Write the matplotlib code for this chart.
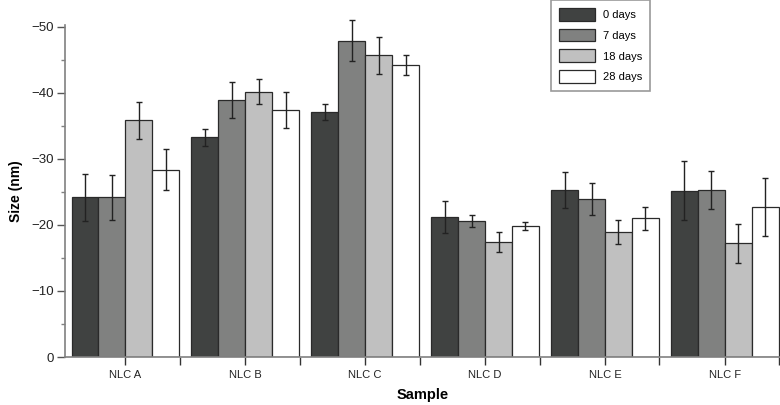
import numpy as np
import matplotlib.pyplot as plt
from matplotlib.ticker import MultipleLocator, FixedLocator

# --- data (sizes shown as negative values on an inverted axis) ---
samples = ["NLC A", "NLC B", "NLC C", "NLC D", "NLC E", "NLC F"]
series = ["0 days", "7 days", "18 days", "28 days"]

day0 = [-24.2, -33.3, -37.1, -21.2, -25.3, -25.2]
day7 = [-24.2, -38.9, -47.9, -20.6, -23.9, -25.3]
day18 = [-35.9, -40.2, -45.7, -17.4, -18.9, -17.2]
day28 = [-28.4, -37.4, -44.2, -19.9, -21.0, -22.7]

err0 = [3.6, 1.3, 1.2, 2.4, 2.7, 4.5]
err7 = [3.4, 2.7, 3.1, 0.9, 2.4, 2.9]
err18 = [2.8, 1.9, 2.8, 1.5, 1.8, 2.9]
err28 = [3.1, 2.7, 1.5, 0.6, 1.8, 4.4]

values = [day0, day7, day18, day28]
errors = [err0, err7, err18, err28]
colors = ["#404241", "#808180", "#c0c0c0", "#ffffff"]

plt.rcParams["font.family"] = ["Liberation Sans", "DejaVu Sans"]

fig = plt.figure(figsize=(7.8, 4.05), dpi=100)
ax = fig.add_axes([65 / 780, 1 - 357 / 405, 1 - 65 / 780, (357 - 25) / 405])

x = np.arange(len(samples))
w = 0.2246
for i, (vals, errs, col) in enumerate(zip(values, errors, colors)):
    ax.bar(x + (i - 1.5) * w, vals, width=w, color=col, edgecolor="#2a2a2a",
           linewidth=0.9, label=series[i], zorder=2)
    ax.errorbar(x + (i - 1.5) * w, vals, yerr=errs, fmt="none", ecolor="#222222",
                elinewidth=1.0, capsize=2.2, capthick=1.0, zorder=3, clip_on=False)

ax.set_xlim(-0.504, 5.46)
ax.set_ylim(0, -50.3)

for side in ["top", "right"]:
    ax.spines[side].set_visible(False)
for side in ["left", "bottom"]:
    ax.spines[side].set_color("#808080")
    ax.spines[side].set_linewidth(1.2)

ax.set_xticks(x)
ax.set_xticklabels(samples)
ax.xaxis.set_minor_locator(FixedLocator(x + 0.454))
ax.yaxis.set_major_locator(MultipleLocator(10))
ax.yaxis.set_minor_locator(MultipleLocator(5))
ax.tick_params(axis="y", which="major", length=6, width=1, color="#555555",
               labelsize=9.5, labelcolor="#222222", pad=2)
ax.tick_params(axis="x", which="major", length=6, width=1, color="#333333",
               labelsize=8, labelcolor="#222222", pad=3)
ax.tick_params(axis="x", which="minor", length=6, width=1, color="#333333")
ax.tick_params(axis="y", which="minor", length=3, width=1, color="#808080")

ax.set_xlabel("Sample", fontsize=10.5, fontweight="bold", labelpad=6)
ax.set_ylabel("Size (nm)", fontsize=10, fontweight="bold", labelpad=6)

leg = ax.legend(loc="upper left", bbox_to_anchor=(551 / 780, 1.0), bbox_transform=fig.transFigure,
                fontsize=8, frameon=True, fancybox=False, handlelength=3.3,
                handleheight=1.4, handletextpad=0.7, labelspacing=0.72,
                borderpad=0.7, borderaxespad=0)
leg.get_frame().set_edgecolor("#808080")
leg.get_frame().set_linewidth(1.2)

fig.savefig("out.png", dpi=100)
